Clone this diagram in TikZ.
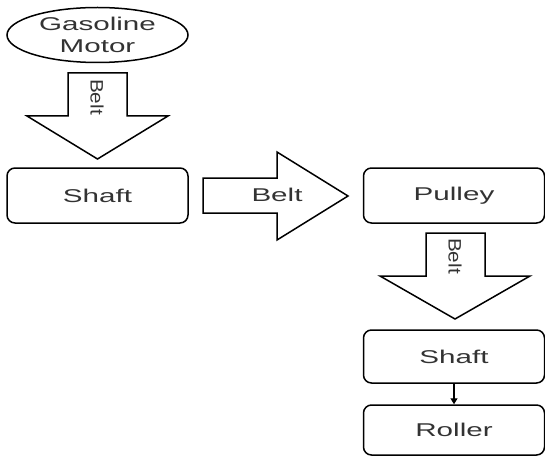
\documentclass[tikz,border=0pt]{standalone}
\usepackage{fontspec}
\usetikzlibrary{arrows.meta,shapes.geometric}
\newfontfamily\widesans[FakeStretch=1.6]{Liberation Sans}
\newfontfamily\vertsans[FakeStretch=1.15]{Liberation Sans}
\tikzset{
  outline/.style={draw=black, line width=1.5pt, fill=white},
  box/.style={outline, rounded corners=8pt, minimum width=181pt, minimum height=55pt, inner sep=0pt,
              font=\widesans\fontsize{18.5}{22}\selectfont, text=black!80},
  blockarrow/.style={outline, line join=miter},
  arrowlabel/.style={font=\widesans\fontsize{18.5}{22}\selectfont, text=black!80, inner sep=0pt},
  vlabel/.style={font=\vertsans\fontsize{18}{22}\selectfont, text=black!80, inner sep=0pt, rotate=-90},
  link/.style={draw=black, line width=1.2pt, -{Triangle[length=6pt,width=7pt]}}
}
\begin{document}
\begin{tikzpicture}[x=1pt,y=-1pt]
  \useasboundingbox (0,0) rectangle (545,457);

  % engine
  \node[outline, ellipse, minimum width=181pt, minimum height=55pt, inner sep=0pt,
        font=\widesans\fontsize{18.5}{22}\selectfont, text=black!80, align=center]
        (motor) at (97.5,35) {Gasoline\\Motor};

  % belt from motor down to the first shaft
  \draw[blockarrow] (68,73) -- (127,73) -- (127,116) -- (168,116) -- (97.5,159)
        -- (27,116) -- (68,116) -- cycle;
  \node[vlabel] (belt1) at (97,97) {Belt};

  % first shaft
  \node[box] (shaft1) at (97.5,195.5) {Shaft};

  % belt from shaft to pulley
  \draw[blockarrow] (203,178) -- (277,178) -- (277,152) -- (348,196) -- (277,240)
        -- (277,213) -- (203,213) -- cycle;
  \node[arrowlabel] (belt2) at (277,195) {Belt};

  % pulley
  \node[box] (pulley) at (454,195.5) {Pulley};

  % belt from pulley down to the second shaft
  \draw[blockarrow] (426,233) -- (485,233) -- (485,276) -- (530,276) -- (455,319)
        -- (380,276) -- (426,276) -- cycle;
  \node[vlabel] (belt3) at (455,256) {Belt};

  % second shaft and roller
  \node[box, minimum height=53pt] (shaft2) at (454,356.5) {Shaft};
  \node[box, minimum height=50pt] (roller) at (454,430) {Roller};
  \draw[link] (shaft2) -- (roller);
\end{tikzpicture}
\end{document}
